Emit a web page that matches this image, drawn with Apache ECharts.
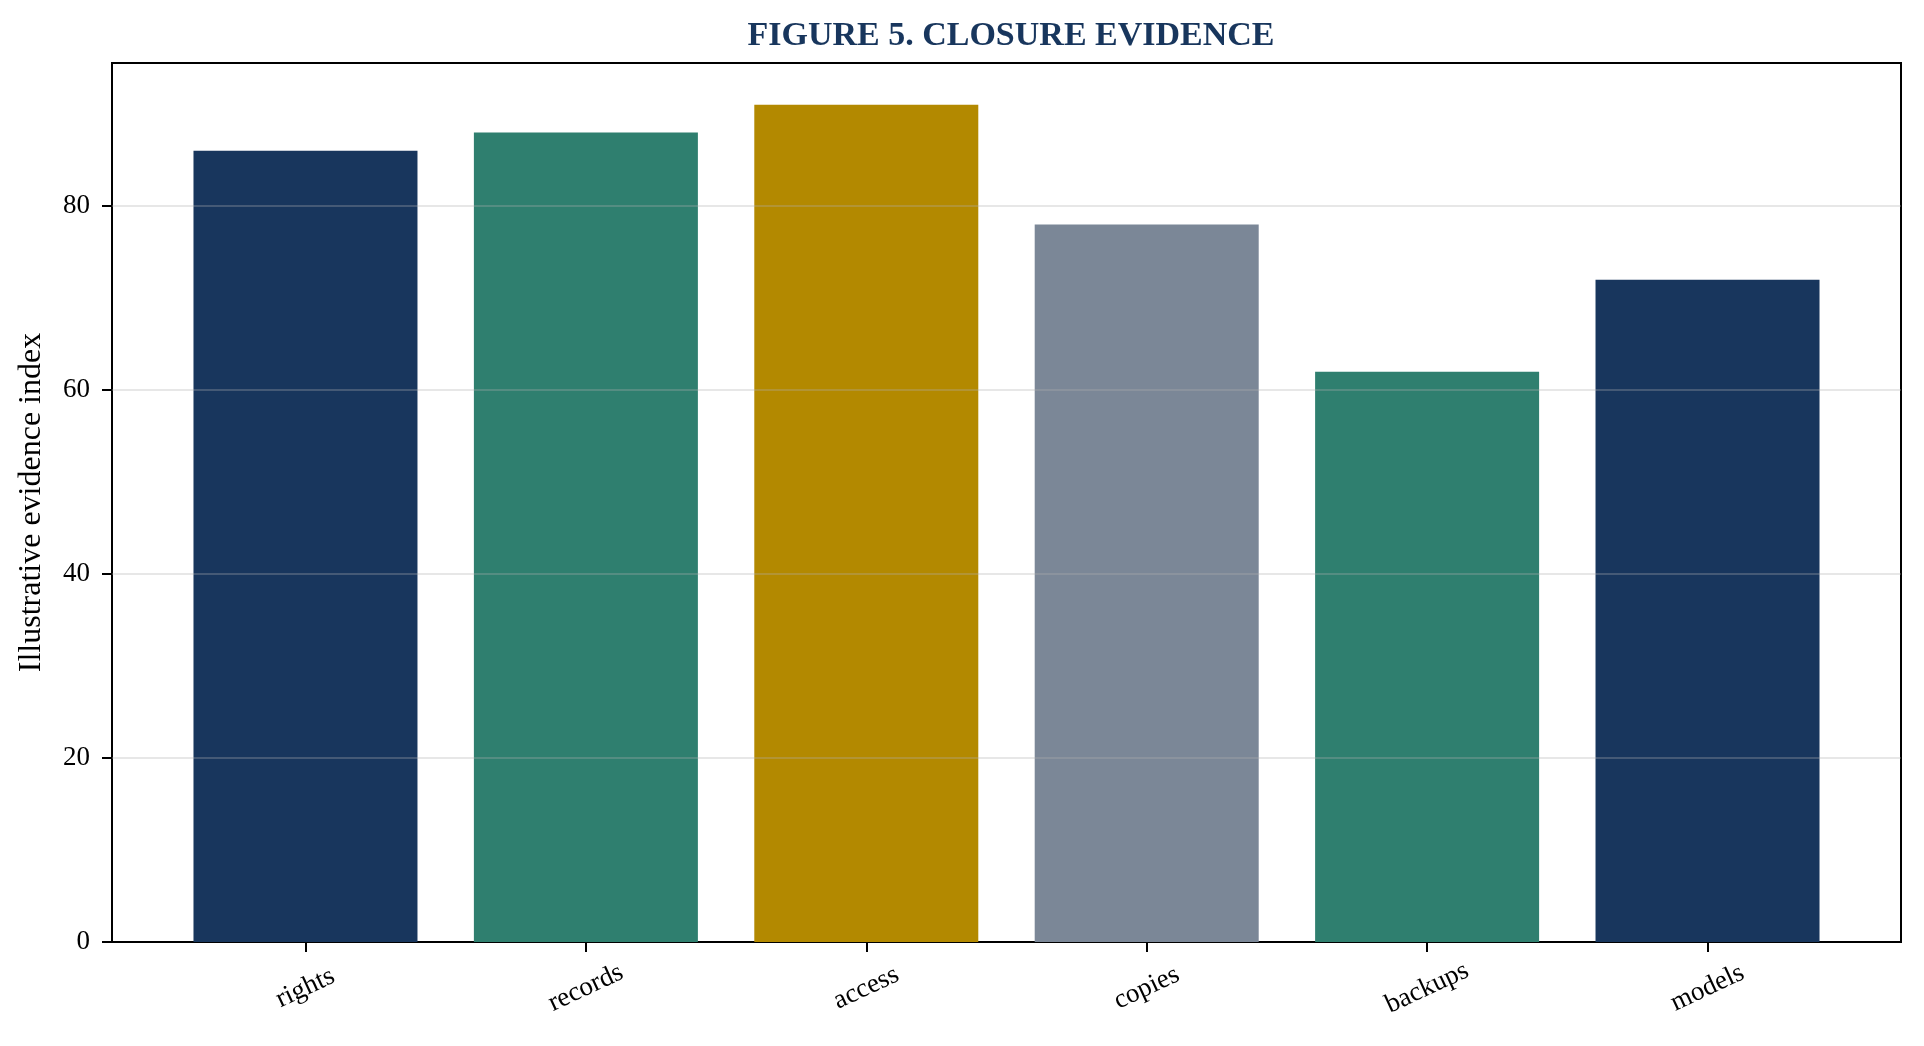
<!DOCTYPE html>
<html>
<head>
<meta charset="utf-8">
<script src="https://cdn.jsdelivr.net/npm/echarts@6/dist/echarts.min.js"></script>
<style>
html,body{margin:0;padding:0;background:#fff;}
#chart{width:1924px;height:1046px;}
</style>
</head>
<body>
<div id="chart"></div>
<script>
const categories = ['rights', 'records', 'access', 'copies', 'backups', 'models'];
const values = [86, 88, 91, 78, 62, 72];
const yTicks = [0, 20, 40, 60, 80];
const gridValues = [20, 40, 60, 80];

const barColors = ['#18365D', '#2F7F6F', '#B38900', '#7B8797', '#2F7F6F', '#18365D'];
const xIdx = categories.map((c, i) => i);

const chart = echarts.init(document.getElementById('chart'), null, {renderer: 'canvas'});
const serif = '"Liberation Serif", "DejaVu Serif", serif';

chart.setOption({
  backgroundColor: '#ffffff',
  animation: false,
  title: {
    text: 'FIGURE 5. CLOSURE EVIDENCE',
    left: 1006,
    top: 14,
    textAlign: 'center',
    textStyle: {fontFamily: serif, fontWeight: 'bold', fontSize: 34, color: '#18365D'}
  },
  grid: {
    left: 112, right: 23, top: 63, bottom: 104,
    outerBoundsMode: 'none',
    containLabel: false,
    show: true, borderColor: '#000', borderWidth: 2, backgroundColor: 'transparent'
  },
  xAxis: {
    type: 'value',
    min: -0.69,
    max: 5.69,
    splitLine: {show: false},
    axisLine: {show: true, onZero: false, lineStyle: {color: '#000', width: 2}},
    axisTick: {show: true, customValues: xIdx, length: 10, lineStyle: {color: '#000', width: 2}},
    axisLabel: {
      customValues: xIdx,
      formatter: v => categories[Math.round(v)] || '',
      rotate: 25,
      align: 'center',
      verticalAlign: 'middle',
      margin: 46,
      fontFamily: serif, fontSize: 27, color: '#000'
    }
  },
  yAxis: {
    type: 'value',
    min: 0,
    max: 95.55,
    interval: 20,
    name: 'Illustrative evidence index',
    nameLocation: 'middle',
    nameRotate: 90,
    nameGap: 64,
    nameTextStyle: {fontFamily: serif, fontSize: 32, color: '#000'},
    splitLine: {show: false},
    axisLine: {show: true, onZero: false, lineStyle: {color: '#000', width: 2}},
    axisTick: {show: true, customValues: yTicks, length: 10, lineStyle: {color: '#000', width: 2}},
    axisLabel: {customValues: yTicks, margin: 22, fontFamily: serif, fontSize: 27, color: '#000'}
  },
  series: [{
    type: 'bar',
    barWidth: 224,
    data: values.map((v, i) => ({value: [xIdx[i], v], itemStyle: {color: barColors[i]}})),
    markLine: {
      silent: true,
      symbol: ['none', 'none'],
      label: {show: false},
      lineStyle: {type: 'solid', color: 'rgba(176,176,176,0.3)', width: 2},
      data: gridValues.map(g => ({yAxis: g}))
    }
  }]
});
</script>
</body>
</html>
